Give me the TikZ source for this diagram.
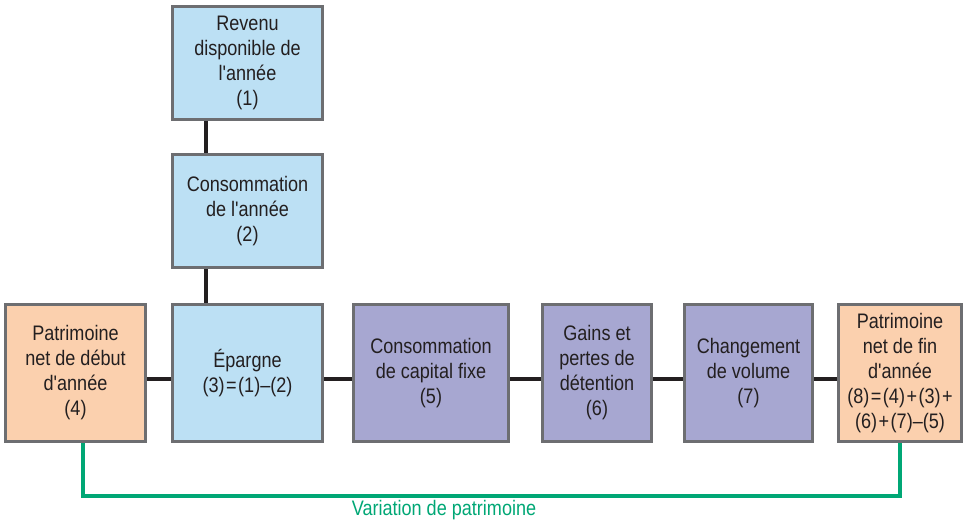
\documentclass[tikz,border=0pt]{standalone}
\usepackage{fontspec}
\newfontfamily\lblfont{Liberation Sans}[FakeStretch=0.86]
\definecolor{boxblue}{HTML}{BCE0F4}
\definecolor{boxpurple}{HTML}{A7A7D1}
\definecolor{boxorange}{HTML}{FBD0AE}
\definecolor{boxborder}{HTML}{6D6E71}
\definecolor{txt}{HTML}{231F20}
\definecolor{vargreen}{HTML}{00A775}
\newcommand\opsp[1]{\hspace{1.5pt}#1\hspace{1.5pt}}
\tikzset{
  base/.style={draw=boxborder, line width=3pt, align=center, text=txt,
    inner sep=0pt, font=\lblfont\fontsize{21}{25}\selectfont, minimum height=137pt},
  bluebox/.style={base, fill=boxblue},
  purplebox/.style={base, fill=boxpurple},
  orangebox/.style={base, fill=boxorange},
  link/.style={draw=txt, line width=3.5pt},
  varline/.style={draw=vargreen, line width=4pt}
}
\begin{document}
\begin{tikzpicture}[x=1pt,y=1pt]
\useasboundingbox (0,0) rectangle (965,522);
\node[bluebox, minimum width=150pt, minimum height=113pt] (b1) at (247.5,459) {Revenu\\disponible de\\l'année\\(1)};
\node[bluebox, minimum width=150pt, minimum height=113pt] (b2) at (247.5,311) {Consommation\\de l'année\\(2)};
\node[bluebox, minimum width=150pt] (b3) at (247.5,149) {Épargne\\(3)\opsp{=}(1)–(2)};
\node[orangebox, minimum width=140pt] (b4) at (75.5,149) {Patrimoine\\net de début\\d'année\\(4)};
\node[purplebox, minimum width=155pt] (b5) at (431,149) {Consommation\\de capital fixe\\(5)};
\node[purplebox, minimum width=109pt] (b6) at (597,149) {Gains et\\pertes de\\détention\\(6)};
\node[purplebox, minimum width=128pt] (b7) at (748.5,149) {Changement\\de volume\\(7)};
\node[orangebox, minimum width=123pt] (b8) at (900,149) {Patrimoine\\net de fin\\d'année\\(8)\opsp{=}(4)\opsp{+}(3)\opsp{+}\\(6)\opsp{+}(7)–(5)};
\draw[link] ([xshift=-41.5pt]b1.south) -- ([xshift=-41.5pt]b2.north);
\draw[link] ([xshift=-41.5pt]b2.south) -- ([xshift=-41.5pt]b3.north);
\draw[link] ([yshift=-6pt]b4.east) -- ([yshift=-6pt]b3.west);
\draw[link] ([yshift=-6pt]b3.east) -- ([yshift=-6pt]b5.west);
\draw[link] ([yshift=-6pt]b5.east) -- ([yshift=-6pt]b6.west);
\draw[link] ([yshift=-6pt]b6.east) -- ([yshift=-6pt]b7.west);
\draw[link] ([yshift=-6pt]b7.east) -- ([yshift=-6pt]b8.west);
\coordinate (g) at (0,26);
\draw[varline] ([xshift=7.5pt]b4.south) |- (g -| b8.south) -- (b8.south);
\node[text=vargreen, font=\lblfont\fontsize{21}{25}\selectfont, anchor=center] (var) at (444,12) {Variation de patrimoine};
\end{tikzpicture}
\end{document}
